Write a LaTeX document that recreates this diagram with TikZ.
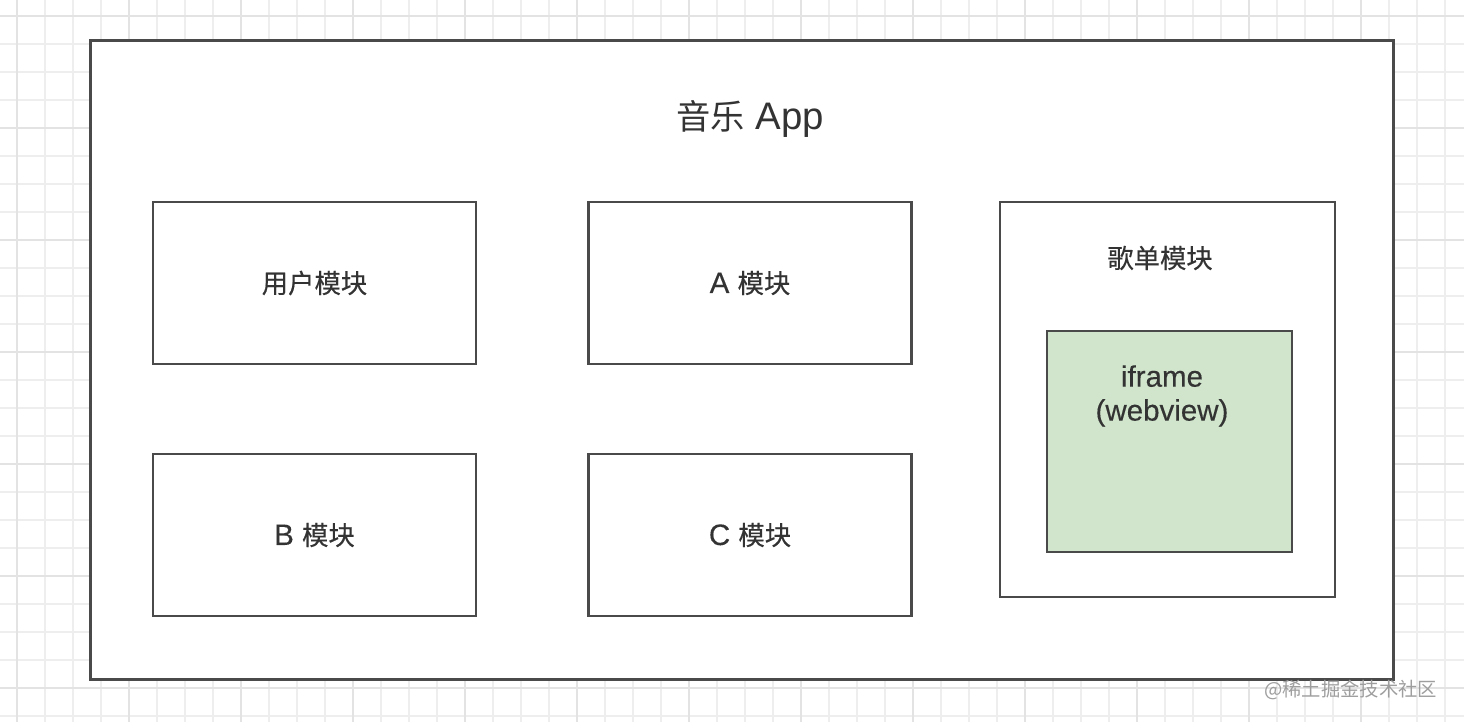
\documentclass[tikz,border=0pt]{standalone}
\usepackage{fontspec}
\setmainfont{Liberation Sans}[Scale=1.12]
\newfontfamily\latinmed{Liberation Sans}[Scale=1.12, FakeBold=0.3]
\newfontfamily\cjk{Noto Sans CJK SC}
\newfontfamily\cjkmed[FakeBold=0.4]{Noto Sans CJK SC}
\usetikzlibrary{positioning}
\definecolor{linegray}{HTML}{4A4A4A}
\definecolor{textgray}{HTML}{333333}
\definecolor{gridminor}{HTML}{EEEEEE}
\definecolor{gridmajor}{HTML}{E3E3E3}
\definecolor{iframegreen}{HTML}{D0E5CC}

\begin{document}
\begin{tikzpicture}[
    x=0.02cm, y=-0.02cm,
    every node/.style={align=center, text=textgray},
    frame/.style={rectangle, draw=linegray, fill=white, line width=1.7pt, minimum width=26.08cm, minimum height=12.8cm},
    module/.style={rectangle, draw=linegray, fill=white, line width=1.6pt, minimum width=6.46cm, minimum height=3.24cm, font=\latinmed\fontsize{15}{19}\selectfont},
    webbox/.style={rectangle, draw=linegray, fill=iframegreen, line width=1.6pt, minimum width=4.9cm, minimum height=4.42cm},
    title/.style={font=\fontsize{19.5}{23}\selectfont},
    label/.style={font=\latinmed\fontsize{15}{19.3}\selectfont},
    marca/.style={font=\cjk\fontsize{11}{13}\selectfont, text=black!38}
]

% --- Fondo y cuadricula
\useasboundingbox (0,0) rectangle (1464,722);
\fill[white] (0,0) rectangle (1464,722);
\foreach \x in {17,45,...,1464} \draw[gridminor, line width=0.7pt] (\x,0) -- (\x,722);
\foreach \y in {16,44,...,722} \draw[gridminor, line width=0.7pt] (0,\y) -- (1464,\y);
\foreach \x in {17,129,...,1464} \draw[gridmajor, line width=0.9pt] (\x,0) -- (\x,722);
\foreach \y in {16,128,...,722} \draw[gridmajor, line width=0.9pt] (0,\y) -- (1464,\y);

% --- Contenedor principal
\node[frame] (app) at (742,360) {};
\node[title] (app_titulo) at (750,119) {{\cjk 音乐} App};

% --- Modulos
\node[module] (usuario) at (314.5,283) {\cjkmed 用户模块};
\node[module] (moduloA) at (750,283) {A {\cjkmed 模块}};
\node[module] (moduloB) at (314.5,535) {B {\cjkmed 模块}};
\node[module] (moduloC) at (750,535) {C {\cjkmed 模块}};

% --- Modulo de listas con iframe
\node[module, minimum width=6.7cm, minimum height=7.9cm] (gedan) at (1167.5,399.5) {};
\node[label] (gedan_titulo) at (1160,258) {\cjkmed 歌单模块};
\node[webbox] (iframe) at (1169.5,441.5) {};
\node[label] (iframe_texto) at (1162,396) {iframe\\(webview)};

% --- Marca de agua
\node[marca, anchor=east] (marca) at (1444,690) {@稀土掘金技术社区};

\end{tikzpicture}
\end{document}
